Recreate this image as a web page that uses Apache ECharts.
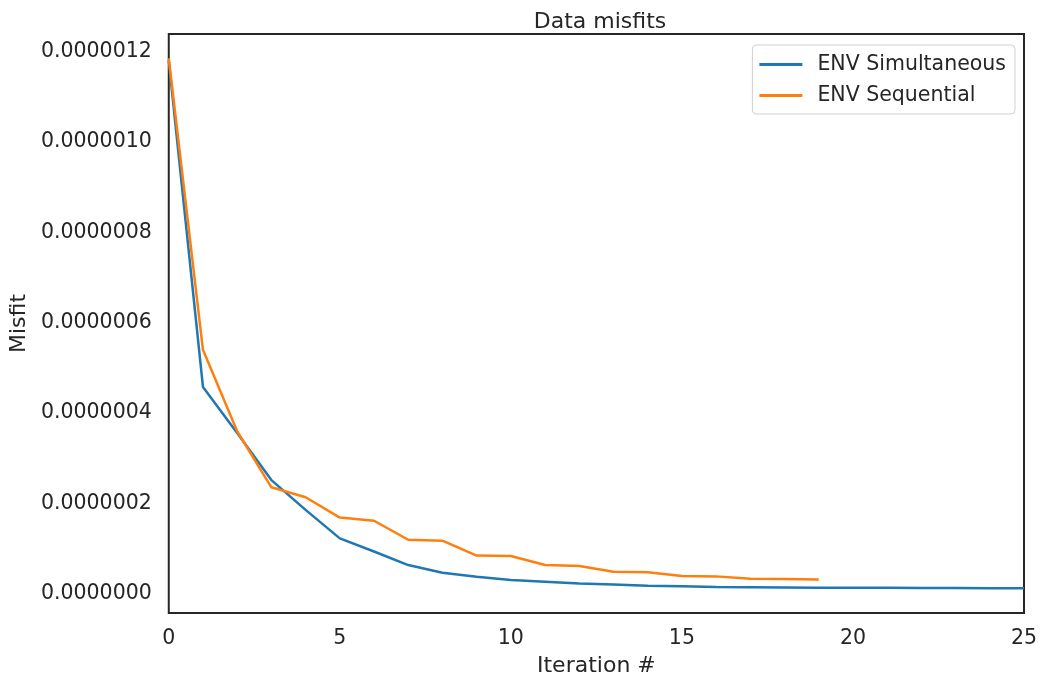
<!DOCTYPE html>
<html>
<head>
<meta charset="utf-8">
<script src="https://cdn.jsdelivr.net/npm/echarts@6/dist/echarts.min.js"></script>
<style>
  html, body { margin: 0; padding: 0; background: #fff; }
  #chart { width: 1042px; height: 682px; }
</style>
</head>
<body>
<div id="chart"></div>
<script>
// misfit per iteration
const simultaneous = [
  1.18e-6, 0.458e-6, 0.356e-6, 0.252e-6, 0.186e-6, 0.123e-6, 0.094e-6, 0.064e-6,
  0.047e-6, 0.038e-6, 0.031e-6, 0.027e-6, 0.023e-6, 0.021e-6, 0.018e-6, 0.017e-6,
  0.0155e-6, 0.015e-6, 0.0145e-6, 0.014e-6, 0.014e-6, 0.0138e-6, 0.0135e-6, 0.0133e-6,
  0.013e-6, 0.013e-6
];
const sequential = [
  1.185e-6, 0.540e-6, 0.360e-6, 0.236e-6, 0.214e-6, 0.169e-6, 0.162e-6, 0.120e-6,
  0.118e-6, 0.085e-6, 0.084e-6, 0.064e-6, 0.062e-6, 0.049e-6, 0.048e-6, 0.040e-6,
  0.039e-6, 0.034e-6, 0.033e-6, 0.032e-6
];
const yTicks = [0, 2e-7, 4e-7, 6e-7, 8e-7, 10e-7, 12e-7];

const ink = '#262626';
const font = 'DejaVu Sans';

const chart = echarts.init(document.getElementById('chart'));

const toPairs = arr => arr.map((v, i) => [i, v]);

chart.setOption({
  animation: false,
  backgroundColor: '#fff',
  textStyle: { fontFamily: font, color: ink },
  title: {
    text: 'Data misfits',
    left: 595,
    textAlign: 'center',
    top: 6,
    textStyle: { fontFamily: font, fontSize: 22, fontWeight: 'normal', color: ink }
  },
  legend: {
    right: 27,
    top: 45,
    orient: 'vertical',
    icon: 'rect',
    itemWidth: 43,
    itemHeight: 3,
    itemGap: 10,
    padding: [9, 9, 8, 7],
    borderColor: '#d0d0d0',
    borderWidth: 1,
    borderRadius: 4,
    textStyle: { fontFamily: font, fontSize: 20.5, color: ink, padding: [0, 0, 0, 10] }
  },
  grid: { left: 165, right: 18, top: 34, bottom: 68, show: true, borderColor: ink, borderWidth: 2 },
  xAxis: {
    type: 'value',
    min: 0,
    max: 25,
    interval: 5,
    name: 'Iteration #',
    nameLocation: 'middle',
    nameGap: 42,
    nameTextStyle: { fontFamily: font, fontSize: 22, color: ink },
    axisLine: { show: false },
    axisTick: { show: false },
    splitLine: { show: false },
    axisLabel: { fontFamily: font, fontSize: 20.5, color: ink, margin: 15 }
  },
  yAxis: {
    type: 'value',
    min: -4.2e-8,
    max: 1.2386e-6,
    name: 'Misfit',
    nameLocation: 'middle',
    nameGap: 128,
    nameTextStyle: { fontFamily: font, fontSize: 22, color: ink },
    axisLine: { show: false },
    axisTick: { show: false },
    splitLine: { show: false },
    axisLabel: {
      customValues: yTicks,
      fontFamily: font,
      fontSize: 20.5,
      color: ink,
      margin: 17,
      padding: [3, 0, 0, 0],
      formatter: v => v.toFixed(7)
    }
  },
  series: [
    {
      name: 'ENV Simultaneous',
      type: 'line',
      data: toPairs(simultaneous),
      showSymbol: false,
      symbol: 'none',
      lineStyle: { width: 2.5, color: '#1f77b4' },
      itemStyle: { color: '#1f77b4' }
    },
    {
      name: 'ENV Sequential',
      type: 'line',
      data: toPairs(sequential),
      showSymbol: false,
      symbol: 'none',
      lineStyle: { width: 2.5, color: '#ff7f0e' },
      itemStyle: { color: '#ff7f0e' }
    }
  ]
});
</script>
</body>
</html>
